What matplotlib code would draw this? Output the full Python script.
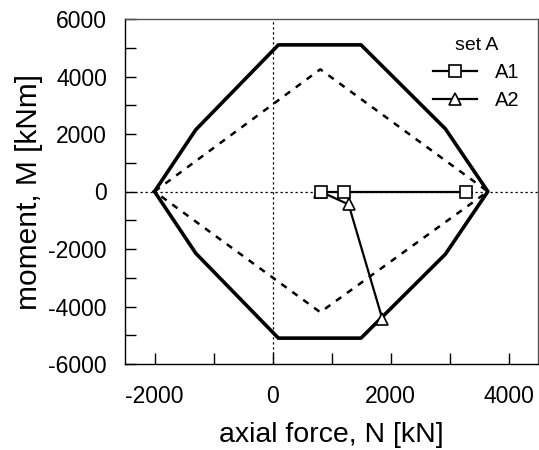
import numpy as np
import matplotlib.pyplot as plt
from matplotlib.ticker import MultipleLocator

plt.rcParams['font.family'] = ['Liberation Sans', 'DejaVu Sans']
plt.rcParams['axes.unicode_minus'] = False

# interaction diagram (outer envelope)
env_N = [-2000, -1300, 100, 1500, 2930, 3650, 2930, 1500, 100, -1300, -2000]
env_M = [0, 2150, 5100, 5100, 2180, 0, -2180, -5100, -5100, -2150, 0]

# dashed diamond
dia_N = [-2000, 810, 3650, 810, -2000]
dia_M = [0, 4250, 0, -4200, 0]

# set A
a1_N = [825, 1220, 3280]
a1_M = [0, 0, 0]
a2_N = [810, 1290, 1860]
a2_M = [0, -450, -4420]

fig = plt.figure(figsize=(5.39, 4.5), dpi=100)
ax = fig.add_axes([125 / 539, 86 / 450, 413 / 539, 345 / 450])

ax.axhline(0, color='black', lw=0.9, ls=(0, (1.8, 2.2)), zorder=1)
ax.axvline(0, color='black', lw=0.9, ls=(0, (1.8, 2.2)), zorder=1)

ax.plot(env_N, env_M, color='black', lw=2.6, zorder=2)
ax.plot(dia_N, dia_M, color='black', lw=1.8, ls=(0, (2.6, 2.8)), zorder=2)

ax.plot(a1_N, a1_M, color='black', lw=1.6, marker='s', ms=8,
        mfc='white', mec='black', mew=1.2, label='A1', zorder=4)
ax.plot(a2_N, a2_M, color='black', lw=1.6, marker='^', ms=8,
        mfc='white', mec='black', mew=1.2, label='A2', zorder=3)

ax.set_xlim(-2500, 4500)
ax.set_ylim(-6000, 6000)
ax.xaxis.set_major_locator(MultipleLocator(2000))
ax.xaxis.set_minor_locator(MultipleLocator(1000))
ax.yaxis.set_major_locator(MultipleLocator(2000))
ax.yaxis.set_minor_locator(MultipleLocator(1000))
ax.tick_params(which='both', direction='in', length=8, width=1, labelsize=16.5,
               top=False, right=False)
ax.tick_params(axis='x', pad=15)
ax.tick_params(axis='y', pad=13)
for s in ['top', 'right']:
    ax.spines[s].set_color('#555555')
for s in ax.spines.values():
    s.set_linewidth(1.0)

ax.set_xlabel('axial force, N [kN]', fontsize=20.5, labelpad=10)
ax.set_ylabel('moment, M [kNm]', fontsize=21.5, labelpad=4)

leg = ax.legend(title='set A', loc='upper right', frameon=False, fontsize=14.5,
                title_fontsize=14, handlelength=2.2, handletextpad=0.9,
                borderaxespad=0.5, labelspacing=0.45)

fig.savefig('out.png', dpi=100)
